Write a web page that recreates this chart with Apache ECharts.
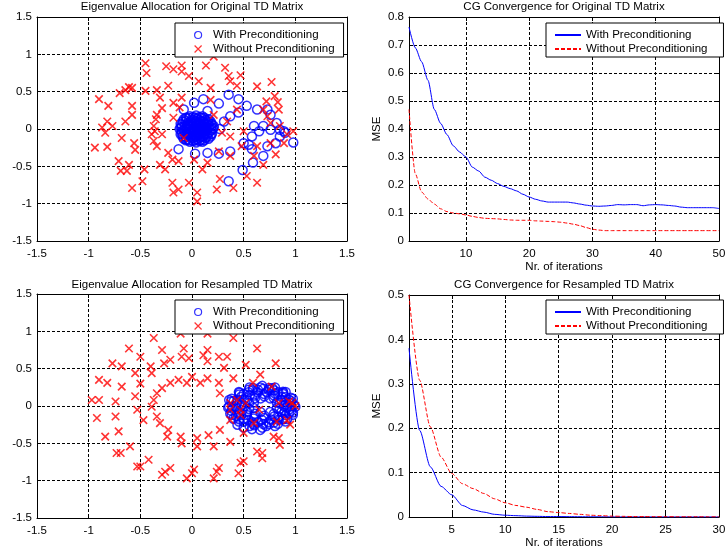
<!DOCTYPE html>
<html><head><meta charset="utf-8">
<script src="https://cdn.jsdelivr.net/npm/echarts@6/dist/echarts.min.js"></script>
<style>html,body{margin:0;padding:0;background:#fff}#c{width:725px;height:554px}</style>
</head><body><div id="c"></div>
<script>
const titles = ['Eigenvalue Allocation for Original TD Matrix','CG Convergence for Original TD Matrix','Eigenvalue Allocation for Resampled TD Matrix','CG Convergence for Resampled TD Matrix'];
const seriesNames = ['With Preconditioning','Without Preconditioning'];
const xName = 'Nr. of iterations';
const yName = 'MSE';
const origTicksX = [10,20,30,40,50];
const resTicksX = [5,10,15,20,25,30];

// Original TD matrix eigenvalues
const origWith = [
[0.20,0.00],[0.19,0.07],[0.16,0.13],[0.10,0.17],[0.04,0.18],[-0.02,0.17],[-0.08,0.13],[-0.11,0.07],[-0.12,0.00],[-0.11,-0.07],[-0.08,-0.13],[-0.02,-0.17],[0.04,-0.18],[0.10,-0.17],[0.16,-0.13],[0.19,-0.07],
[0.14,0.00],[0.12,0.08],[0.07,0.12],[0.01,0.12],[-0.04,0.08],[-0.06,0.00],[-0.04,-0.08],[0.01,-0.12],[0.07,-0.12],[0.12,-0.08],
[0.08,0.03],[0.04,0.05],[0.00,0.03],[0.00,-0.03],[0.04,-0.05],[0.08,-0.03],[0.04,0.00],
[0.17,0.04],[0.17,-0.04],[0.13,0.12],[0.13,-0.12],[-0.09,0.10],[-0.09,-0.10],[-0.10,0.03],[-0.10,-0.03],[0.07,0.16],[0.01,0.16],[0.07,-0.16],[0.01,-0.16],[0.10,0.05],[0.10,-0.05],[-0.02,0.06],[-0.02,-0.06],
[0.18,0.10],[0.18,-0.10],[0.15,0.06],[0.15,-0.06],[0.05,0.14],[0.05,-0.14],[-0.05,0.14],[-0.05,-0.14],[-0.07,0.04],[-0.07,-0.04],[0.02,0.09],[0.02,-0.09],[0.11,0.10],[0.11,-0.10],[0.06,0.08],[0.06,-0.08],[-0.03,0.00],[0.12,0.02],[0.12,-0.02],[0.16,0.09],
[-0.06,0.15],[-0.03,0.15],[0.03,0.15],[0.09,0.15],[0.12,0.15],
[-0.06,0.105],[-0.01,0.105],[0.035,0.105],[0.08,0.105],[0.145,0.105],
[-0.10,0.06],[-0.045,0.06],[0.01,0.06],[0.065,0.06],[0.125,0.06],[0.19,0.06],
[-0.11,0.015],[-0.05,0.015],[0.02,0.015],[0.06,0.015],[0.10,0.015],[0.16,0.015],[0.21,0.015],
[-0.08,-0.015],[-0.01,-0.015],[0.02,-0.015],[0.06,-0.015],[0.10,-0.015],[0.14,-0.015],[0.19,-0.015],
[-0.10,-0.06],[-0.045,-0.06],[0.01,-0.06],[0.065,-0.06],[0.125,-0.06],[0.19,-0.06],
[-0.06,-0.105],[-0.01,-0.105],[0.035,-0.105],[0.08,-0.105],[0.145,-0.105],
[-0.06,-0.15],[-0.03,-0.15],[0.03,-0.15],[0.09,-0.15],[0.12,-0.15],
[-0.13,-0.27],[0.03,-0.33],[0.15,-0.32],[0.26,-0.33],[0.37,-0.30],[0.355,-0.70],[0.49,-0.55],[0.59,-0.45],[0.55,-0.21],[0.58,-0.27],[0.69,-0.36],[0.73,-0.23],[0.81,-0.19],[0.98,-0.18],[0.90,-0.05],[0.85,-0.01],[0.82,0.08],[0.76,0.19],[0.73,0.26],[0.63,0.26],[0.53,0.31],[0.45,0.22],[0.45,0.40],[0.355,0.46],[0.26,0.34],[0.11,0.40],[0.02,0.35],[-0.08,0.26],[0.21,0.04],[0.31,0.10],[0.37,0.17],[0.60,0.04],[0.65,-0.03],[0.69,0.04],[0.76,-0.01],[0.58,-0.10],[0.50,-0.19],[0.85,-0.10],[0.89,-0.03],[0.15,0.24],[0.27,0.00]
];
const origWithout = [
[-0.45,0.88],[-0.44,0.75],[-0.25,0.84],[-0.18,0.80],[-0.10,0.85],[-0.10,0.77],[-0.03,0.71],[0.135,0.85],[0.21,0.97],[0.065,0.64],[0.32,0.82],[0.355,0.71],[0.37,0.64],[0.47,0.72],[0.435,0.58],[0.63,0.57],[0.77,0.63],[0.80,0.44],[0.72,0.37],[0.83,0.36],[0.18,0.55],[-0.23,0.58],[-0.34,0.52],[-0.45,0.51],[-0.61,0.56],[-0.645,0.52],[-0.58,0.55],[-0.70,0.48],[-0.90,0.40],[-0.81,0.31],[-0.58,0.31],[-0.58,0.19],[-0.645,0.10],[-0.82,0.10],[-0.77,0.04],[-0.87,0.02],[-0.84,-0.05],[-0.94,-0.25],[-0.82,-0.24],[-0.68,-0.12],[-0.56,-0.19],[-0.55,-0.28],[-0.71,-0.43],[-0.69,-0.56],[-0.61,-0.48],[-0.63,-0.56],[-0.58,-0.79],[-0.48,-0.70],[-0.46,-0.54],[-0.31,0.42],[-0.29,0.28],[-0.34,0.19],[-0.35,0.13],[-0.37,0.04],[-0.36,-0.03],[-0.39,-0.07],[-0.29,-0.07],[-0.37,-0.16],[-0.34,-0.23],[-0.31,-0.48],[-0.26,-0.54],[-0.23,-0.32],[-0.19,-0.41],[-0.13,-0.43],[-0.19,-0.72],[-0.18,-0.85],[-0.13,-0.81],[-0.03,-0.72],[0.05,-0.85],[0.05,-0.97],[0.10,-0.54],[0.02,-0.41],[0.15,-0.45],[0.24,-0.81],[0.27,-0.67],[0.40,-0.79],[0.53,-0.63],[0.63,-0.72],[0.60,-0.36],[0.69,-0.48],[0.81,-0.34],[0.89,-0.19],[0.98,-0.03],[-0.18,0.35],[-0.10,0.42],[-0.12,0.29],[-0.18,0.15],[-0.08,-0.12],[0.18,0.39],[0.21,0.19],[0.34,0.10],[0.37,-0.10],[0.29,-0.05],[0.435,0.26],[0.50,-0.03],[0.48,-0.23],[0.37,-0.36],[0.26,-0.30],[0.63,-0.23],[0.69,0.26],[0.73,0.17],[0.76,0.08],[0.84,0.26],[0.85,0.04],[0.92,-0.07],[0.76,-0.19]
];

// Resampled TD matrix eigenvalues
const resWith = [
[1.00,-0.01],[0.976,0.097],[0.906,0.188],[0.803,0.249],[0.68,0.27],[0.557,0.249],[0.454,0.188],[0.384,0.097],[0.36,-0.01],[0.384,-0.117],[0.454,-0.208],[0.557,-0.269],[0.68,-0.29],[0.803,-0.269],[0.906,-0.208],[0.976,-0.117],
[0.945,0.043],[0.906,0.122],[0.835,0.183],[0.741,0.216],[0.639,0.216],[0.545,0.183],[0.474,0.122],[0.435,0.043],[0.435,-0.043],[0.474,-0.122],[0.545,-0.183],[0.639,-0.216],[0.741,-0.216],[0.835,-0.183],[0.906,-0.122],[0.945,-0.043],
[0.89,0.00],[0.865,0.08],[0.795,0.139],[0.70,0.16],[0.605,0.139],[0.535,0.08],[0.51,0.00],[0.535,-0.08],[0.605,-0.139],[0.70,-0.16],[0.795,-0.139],[0.865,-0.08],
[0.821,0.048],[0.756,0.102],[0.664,0.102],[0.599,0.048],[0.599,-0.028],[0.664,-0.082],[0.756,-0.082],[0.821,-0.028],
[0.96,0.065],[0.882,0.177],[0.748,0.242],[0.592,0.242],[0.458,0.177],[0.38,0.065],[0.38,-0.065],[0.458,-0.177],[0.592,-0.242],[0.748,-0.242],[0.882,-0.177],[0.96,-0.065],
[0.989,0.015],[0.955,0.112],[0.881,0.191],[0.777,0.239],[0.661,0.249],[0.549,0.219],[0.458,0.155],[0.403,0.066],[0.392,-0.035],[0.425,-0.132],[0.500,-0.211],[0.603,-0.259],[0.719,-0.269],[0.831,-0.239],[0.922,-0.175],[0.977,-0.086],
[0.911,0.055],[0.870,0.121],[0.804,0.168],[0.722,0.189],[0.636,0.182],[0.560,0.147],[0.506,0.089],[0.481,0.019],[0.489,-0.055],[0.530,-0.121],[0.596,-0.168],[0.678,-0.189],[0.764,-0.182],[0.840,-0.147],[0.894,-0.089],[0.919,-0.019],
[0.96,-0.005],[0.939,0.085],[0.881,0.161],[0.793,0.212],[0.69,0.23],[0.587,0.212],[0.499,0.161],[0.441,0.085],[0.42,-0.005],[0.441,-0.095],[0.499,-0.171],[0.587,-0.222],[0.69,-0.24],[0.793,-0.222],[0.881,-0.171],[0.939,-0.095],
[0.847,0.040],[0.791,0.105],[0.70,0.13],[0.609,0.105],[0.553,0.040],[0.553,-0.040],[0.609,-0.105],[0.70,-0.13],[0.791,-0.105],[0.847,-0.040],
[0.40,-0.17],[0.44,-0.25],[0.50,-0.29],[0.58,-0.31],[0.66,-0.32],[0.37,-0.10],[0.35,-0.02],[0.36,0.08]
];
const resWithout = [
[-0.37,0.91],[-0.61,0.77],[-0.50,0.66],[-0.29,0.75],[-0.27,0.57],[-0.21,0.62],[-0.11,0.97],[-0.08,0.77],[-0.10,0.66],[-0.03,0.64],[0.11,0.68],[0.15,0.97],[0.15,0.75],[0.15,0.60],[0.26,0.66],[0.34,0.66],[0.31,0.51],[0.40,0.91],[0.52,0.55],[0.63,0.77],[0.81,0.57],[0.66,0.42],
[-0.77,0.57],[-0.68,0.53],[-0.55,0.44],[-0.40,0.53],[-0.39,0.44],[-0.50,0.30],[-0.90,0.35],[-0.82,0.31],[-0.68,0.26],[-0.97,0.08],[-0.90,0.08],[-0.74,0.06],[-0.55,0.13],[-0.53,-0.05],[-0.47,-0.19],[-0.92,-0.16],[-0.74,-0.14],[-0.71,-0.34],[-0.84,-0.41],[-0.60,-0.54],[-0.73,-0.63],[-0.69,-0.63],[-0.53,-0.81],[-0.42,-0.72],[-0.50,-0.81],[-0.29,-0.92],[-0.21,-0.83],[-0.26,-0.88],[-0.05,-0.97],[0.00,-0.90],[0.02,-0.85],[0.21,-0.97],[0.24,-0.88],[0.26,-0.83],[0.21,-0.54],[0.05,-0.54],[0.05,-0.43],[0.16,-0.39],[0.27,-0.32],[0.37,-0.48],[-0.11,-0.41],[-0.10,-0.50],[-0.24,-0.41],[-0.23,-0.32],[-0.31,-0.23],[-0.34,-0.14],[-0.39,-0.01],[-0.37,0.08],[-0.34,0.17],[-0.29,0.24],[-0.21,0.31],[-0.13,0.35],[-0.05,0.31],[0.00,0.39],[0.08,0.31],[0.15,0.37],[0.26,0.31],[0.27,0.17],[0.40,0.37],
[0.47,-0.76],[0.45,-0.90],[0.50,-0.74],[0.63,-0.61],[0.68,-0.63],[0.68,-0.70],[0.79,-0.41],[0.85,-0.52],[0.84,-0.43],[0.95,-0.25],[0.97,0.04],[1.00,0.00],[0.94,0.06],[0.82,-0.21],[0.92,-0.19],[0.84,0.04],[0.77,0.26],[0.59,0.31],[0.65,-0.05],[0.60,-0.23],[0.50,-0.36],[0.47,-0.05],[0.47,-0.12],[0.52,0.04],[0.37,-0.05],[0.37,-0.19],[0.435,0.08],[0.37,0.04]
];

// CG convergence
const iterOrig = [1,2,3,4,5,6,7,8,9,10,11,12,13,14,15,16,17,18,19,20,21,22,23,24,25,26,27,28,29,30,31,32,33,34,35,36,37,38,39,40,41,42,43,44,45,46,47,48,49,50];
const mseOrigWith = [0.764,0.69,0.64,0.574,0.47,0.42,0.38,0.34,0.318,0.30,0.264,0.25,0.228,0.217,0.205,0.195,0.187,0.179,0.167,0.157,0.149,0.143,0.139,0.139,0.139,0.139,0.136,0.132,0.128,0.125,0.124,0.125,0.127,0.130,0.129,0.130,0.130,0.126,0.129,0.130,0.129,0.127,0.125,0.121,0.119,0.119,0.119,0.119,0.119,0.116];
const mseOrigWithout = [0.47,0.24,0.175,0.15,0.132,0.115,0.105,0.100,0.097,0.093,0.088,0.084,0.081,0.080,0.079,0.077,0.075,0.074,0.074,0.074,0.072,0.071,0.070,0.069,0.067,0.064,0.060,0.055,0.048,0.042,0.039,0.037,0.037,0.037,0.037,0.037,0.037,0.037,0.037,0.037,0.037,0.037,0.037,0.037,0.037,0.037,0.037,0.037,0.037,0.037];
const iterRes = [1,2,3,4,5,6,7,8,9,10,11,12,13,14,15,16,17,18,19,20,21,22,23,24,25,26,27,28,29,30];
const mseResWith = [0.38,0.195,0.113,0.069,0.05,0.026,0.016,0.011,0.006,0.004,0.003,0.002,0.0015,0.001,0.001,0.0008,0.0006,0.0005,0.0004,0.0003,0.0002,0.0002,0.0002,0.0001,0.0001,0.0001,0.0001,0.0001,0.0001,0.0001];
const mseResWithout = [0.5,0.308,0.203,0.135,0.098,0.075,0.064,0.053,0.041,0.032,0.026,0.022,0.017,0.012,0.010,0.008,0.006,0.004,0.003,0.002,0.0015,0.001,0.001,0.0008,0.0007,0.0006,0.0005,0.0005,0.0004,0.0004];

const FONT = "'Liberation Sans', Arial, Helvetica, sans-serif";
const FS = 11.5;
const BLUE = '#0000ff', RED = '#ff0000';
const XPATH = 'path://M0,0L10,10M10,0L0,10';

const grids = [
  {left:37, top:17, width:310, height:224},
  {left:409, top:17, width:310, height:224},
  {left:37, top:294, width:310, height:224},
  {left:409, top:295, width:310, height:222}
];

function mkAxis(dim, grid, min, max, interval, custom, primary, name, nameGap) {
  const ax = {
    type:'value', gridIndex:grid, min:min, max:max,
    position: dim === 'x' ? (primary ? 'bottom' : 'top') : (primary ? 'left' : 'right'),
    axisLine:{show:true, onZero:false, lineStyle:{color:'#000', width:1}},
    axisTick:{show:true, inside:true, length:4, lineStyle:{color:'#000', width:1}},
    axisLabel:{show:primary, color:'#000', fontSize:FS, fontFamily:FONT, margin: dim === 'x' ? 7 : 5},
    splitLine:{show:primary, lineStyle:{color:'#000', width:1, type:[3,2]}}
  };
  if (custom) {
    ax.axisTick.customValues = custom;
    ax.axisLabel.customValues = custom;
  } else {
    ax.interval = interval;
  }
  if (primary && name) {
    ax.name = name; ax.nameLocation = 'middle'; ax.nameGap = nameGap;
    ax.nameTextStyle = {color:'#000', fontSize:FS, fontFamily:FONT};
  }
  return ax;
}

const xAxes = [], yAxes = [];
[0,2].forEach(g => {
  xAxes.push(mkAxis('x', g, -1.5, 1.5, 0.5, null, true));
  xAxes.push(mkAxis('x', g, -1.5, 1.5, 0.5, null, false));
  yAxes.push(mkAxis('y', g, -1.5, 1.5, 0.5, null, true));
  yAxes.push(mkAxis('y', g, -1.5, 1.5, 0.5, null, false));
});
xAxes.push(mkAxis('x', 1, 1, 50, null, origTicksX, true, xName, 20));
xAxes.push(mkAxis('x', 1, 1, 50, null, origTicksX, false));
yAxes.push(mkAxis('y', 1, 0, 0.8, 0.1, null, true, yName, 26));
yAxes.push(mkAxis('y', 1, 0, 0.8, 0.1, null, false));
xAxes.push(mkAxis('x', 3, 1, 30, null, resTicksX, true, xName, 20));
xAxes.push(mkAxis('x', 3, 1, 30, null, resTicksX, false));
yAxes.push(mkAxis('y', 3, 0, 0.5, 0.1, null, true, yName, 26));
yAxes.push(mkAxis('y', 3, 0, 0.5, 0.1, null, false));

function circleSeries(name, data, ax) {
  return {type:'scatter', name:name, xAxisIndex:ax, yAxisIndex:ax, data:data,
    symbol:'circle', symbolSize:9,
    itemStyle:{color:'transparent', borderColor:BLUE, borderWidth:1.5}, z:2};
}
function crossSeries(name, data, ax) {
  return {type:'scatter', name:name, xAxisIndex:ax, yAxisIndex:ax, data:data,
    symbol:XPATH, symbolSize:7.5,
    itemStyle:{color:'transparent', borderColor:RED, borderWidth:1.6}, z:3};
}
function lineSeries(name, xs, ys, ax, color, dashed) {
  return {type:'line', name:name, xAxisIndex:ax, yAxisIndex:ax,
    data: xs.map((x,i) => [x, ys[i]]), showSymbol:false, symbol:'none',
    smooth:0.25, smoothMonotone:'x',
    lineStyle:{color:color, width:1, type: dashed ? [4,2] : 'solid'},
    itemStyle:{color:color}, z:3};
}

const series = [
  circleSeries(seriesNames[0]+'#0', origWith, 0),
  crossSeries(seriesNames[1]+'#0', origWithout, 0),
  circleSeries(seriesNames[0]+'#2', resWith, 2),
  crossSeries(seriesNames[1]+'#2', resWithout, 2),
  lineSeries(seriesNames[0]+'#1', iterOrig, mseOrigWith, 4, BLUE, false),
  lineSeries(seriesNames[1]+'#1', iterOrig, mseOrigWithout, 4, RED, true),
  lineSeries(seriesNames[0]+'#3', iterRes, mseResWith, 6, BLUE, false),
  lineSeries(seriesNames[1]+'#3', iterRes, mseResWithout, 6, RED, true)
];

function scatterLegend(k, top) {
  return {show:true, left:175, top:top, orient:'vertical', selectedMode:false,
    padding:[6,9,2,19], itemGap:2, itemWidth:20, itemHeight:7,
    backgroundColor:'#fff', borderColor:'#000', borderWidth:1, borderRadius:0,
    textStyle:{color:'#000', fontSize:FS, fontFamily:FONT},
    formatter: n => n.split('#')[0],
    data:[
      {name:seriesNames[0]+'#'+k, icon:'circle', itemStyle:{color:'transparent', borderColor:BLUE, borderWidth:1.2}},
      {name:seriesNames[1]+'#'+k, icon:XPATH, itemStyle:{color:'transparent', borderColor:RED, borderWidth:1.2}}
    ]};
}
function lineLegend(k, top) {
  return {show:true, left:546, top:top, orient:'vertical', selectedMode:false,
    padding:[6,16,2,8], itemGap:2, itemWidth:26, itemHeight:10,
    backgroundColor:'#fff', borderColor:'#000', borderWidth:1, borderRadius:0,
    textStyle:{color:'#000', fontSize:FS, fontFamily:FONT},
    lineStyle:{width:2},
    itemStyle:{opacity:0},
    formatter: n => n.split('#')[0],
    data:[seriesNames[0]+'#'+k, seriesNames[1]+'#'+k]};
}

const titleCenters = [[192,1],[564,1],[192,279],[564,279]];
const option = {
  animation:false,
  backgroundColor:'#fff',
  title: titles.map((t,i) => ({text:t, left:titleCenters[i][0], top:titleCenters[i][1], padding:0,
    textAlign:'center', textStyle:{color:'#000', fontSize:FS, fontWeight:'normal', fontFamily:FONT}})),
  grid: grids.map(g => Object.assign({containLabel:false, outerBoundsMode:'none'}, g)),
  xAxis: xAxes,
  yAxis: yAxes,
  legend: [scatterLegend(0, 23), lineLegend(1, 23), scatterLegend(2, 300), lineLegend(3, 300)],
  series: series
};
const chart = echarts.init(document.getElementById('c'), null, {renderer:'canvas'});
chart.setOption(option);
</script></body></html>
